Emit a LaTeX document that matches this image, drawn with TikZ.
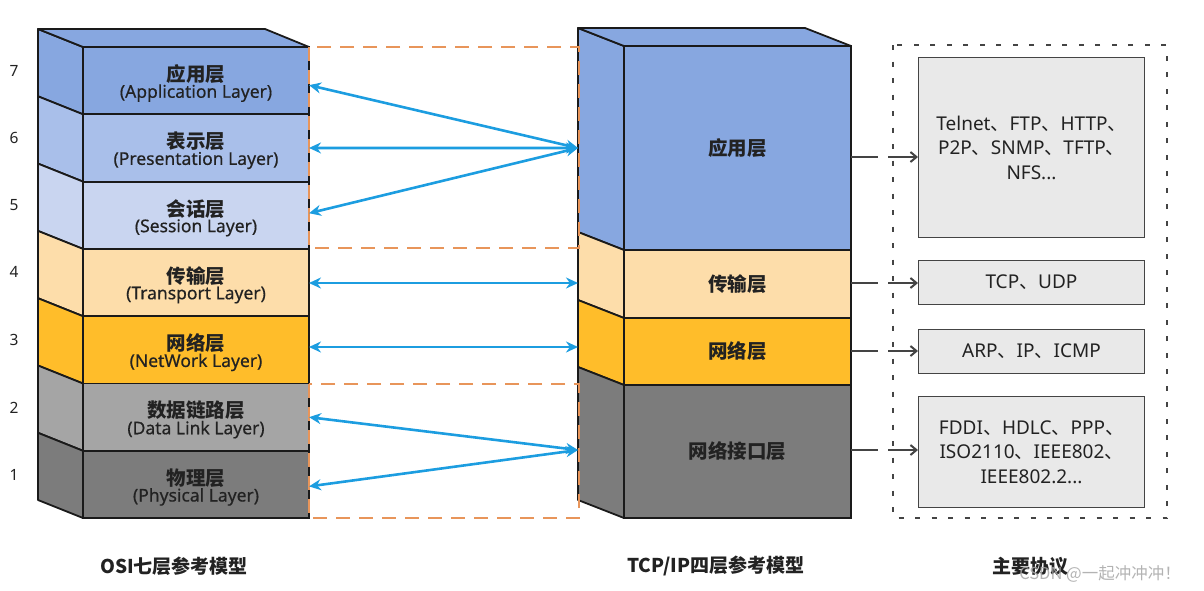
\documentclass[tikz,border=0pt]{standalone}
\usepackage{fontspec}
\setmainfont{Noto Sans}
\newfontfamily\cjk{Noto Sans CJK SC}
\newfontfamily\latmed[FakeBold=0.5]{Noto Sans}
\usetikzlibrary{arrows.meta,calc}
\definecolor{c7}{HTML}{87A7E0}
\definecolor{c6}{HTML}{A9BFEA}
\definecolor{c5}{HTML}{C9D5F0}
\definecolor{c4}{HTML}{FDDDAA}
\definecolor{c3}{HTML}{FFBD2A}
\definecolor{c2}{HTML}{A5A5A5}
\definecolor{c1}{HTML}{7C7C7C}
\definecolor{edgecol}{HTML}{1A1A1A}
\definecolor{arrowblue}{HTML}{1C9DE0}
\definecolor{dashorange}{HTML}{E8955A}
\definecolor{protofill}{HTML}{E9E9E9}
\definecolor{protoline}{HTML}{444444}
\definecolor{txt}{HTML}{222222}
\newcommand{\sideface}[5]{\filldraw[sideline, fill=#1] (#2,#4-18) -- (#3,#4) -- (#3,#5) -- (#2,#5-18) -- cycle;}
\newcommand{\lyr}[2]{{\cjk\bfseries\fontsize{19.5}{21}\selectfont\rule{0pt}{22pt}#1}\\{\latmed\fontsize{17.5}{24.5}\selectfont #2}}
\newcommand{\dun}{{\cjk 、}}
\tikzset{
  sideline/.style={draw=edgecol, line width=1.8pt, line join=round},
  layerbox/.style={draw=edgecol, line width=1.8pt, anchor=north west, inner sep=0pt, outer sep=0pt, align=center, text=txt},
  osilayer/.style={layerbox, minimum width=226pt},
  tcplayer/.style={layerbox, minimum width=227pt, font=\cjk\bfseries\fontsize{19.5}{22}\selectfont},
  protobox/.style={draw=protoline, line width=1pt, fill=protofill, anchor=north west, minimum width=226pt, inner sep=0pt, align=center, text=txt, font=\fontsize{19}{24.5}\selectfont},
  orangebox/.style={draw=dashorange, line width=1.6pt, dash pattern=on 14pt off 9pt},
  blarrow/.style={draw=arrowblue, line width=2.6pt, {Stealth[length=12pt,width=11pt]}-{Stealth[length=12pt,width=11pt]}},
  protoarrow/.style={draw=protoline, line width=2pt, dash pattern=on 27pt off 10pt, -{Straight Barb[length=6pt,width=10pt]}},
  numlabel/.style={text=txt, font=\fontsize{15.5}{18}\selectfont},
  caption/.style={text=txt, font=\cjk\bfseries\fontsize{19}{22}\selectfont},
}
\begin{document}
\begin{tikzpicture}[x=1pt,y=-1pt]
\useasboundingbox (0,0) rectangle (1204,590);
% ---------- OSI stack ----------
\sideface{c7}{38}{83}{47}{114.3}
\sideface{c6}{38}{83}{114.3}{181.6}
\sideface{c5}{38}{83}{181.6}{248.9}
\sideface{c4}{38}{83}{248.9}{316.2}
\sideface{c3}{38}{83}{316.2}{383.5}
\sideface{c2}{38}{83}{383.5}{450.8}
\sideface{c1}{38}{83}{450.8}{518}
\filldraw[sideline, fill=c7] (38,29) -- (265,29) -- (309,47) -- (83,47) -- cycle;
\node[osilayer, fill=c7, minimum height=67.3pt] (o7) at (83,47) {\lyr{应用层}{(Application Layer)}};
\node[osilayer, fill=c6, minimum height=67.3pt] (o6) at (83,114.3) {\lyr{表示层}{(Presentation Layer)}};
\node[osilayer, fill=c5, minimum height=67.3pt] (o5) at (83,181.6) {\lyr{会话层}{(Session Layer)}};
\node[osilayer, fill=c4, minimum height=67.3pt] (o4) at (83,248.9) {\lyr{传输层}{(Transport Layer)}};
\node[osilayer, fill=c3, minimum height=67.3pt] (o3) at (83,316.2) {\lyr{网络层}{(NetWork Layer)}};
\node[osilayer, fill=c2, minimum height=67.3pt] (o2) at (83,383.5) {\lyr{数据链路层}{(Data Link Layer)}};
\node[osilayer, fill=c1, minimum height=67.2pt] (o1) at (83,450.8) {\lyr{物理层}{(Physical Layer)}};
% layer numbers
\node[numlabel] (n7) at (14,71) {7};
\node[numlabel] (n6) at (14,138) {6};
\node[numlabel] (n5) at (14,205) {5};
\node[numlabel] (n4) at (14,272) {4};
\node[numlabel] (n3) at (14,340) {3};
\node[numlabel] (n2) at (14,408) {2};
\node[numlabel] (n1) at (14,475) {1};
% ---------- TCP/IP stack ----------
\sideface{c7}{578}{624}{46}{250}
\sideface{c4}{578}{624}{250}{318}
\sideface{c3}{578}{624}{318}{385}
\sideface{c1}{578}{624}{385}{518}
\filldraw[sideline, fill=c7] (578,28) -- (805,28) -- (851,46) -- (624,46) -- cycle;
\node[tcplayer, fill=c7, minimum height=204pt] (tapp) at (624,46) {应用层};
\node[tcplayer, fill=c4, minimum height=68pt] (ttra) at (624,250) {传输层};
\node[tcplayer, fill=c3, minimum height=67pt] (tnet) at (624,318) {网络层};
\node[tcplayer, fill=c1, minimum height=133pt] (tif) at (624,385) {网络接口层};
% ---------- orange dashed groups ----------
\draw[orangebox] (309,47) rectangle (579,248);
\draw[orangebox] (309,384) rectangle (579,518);
% ---------- blue arrows ----------
\coordinate (tA) at (578,148);
\coordinate (tT) at (578,283);
\coordinate (tN) at (578,347);
\coordinate (tI) at (578,450);
\draw[blarrow] ([yshift=-4.5pt]o7.east) -- (tA);
\draw[blarrow] (o6.east) -- (tA);
\draw[blarrow] ([yshift=2pt]o5.east) -- (tA);
\draw[blarrow] (o4.east |- tT) -- (tT);
\draw[blarrow] (o3.east |- tN) -- (tN);
\draw[blarrow] (o2.east) -- (tI);
\draw[blarrow] ([yshift=-2pt]o1.east) -- (tI);
% ---------- protocols ----------
\draw[protoline, line width=2.5pt, dash pattern=on 5pt off 11.5pt] (893,45) rectangle (1167,518);
\node[protobox, minimum height=180pt] (p1) at (918,57) {Telnet\dun FTP\dun HTTP\dun\\P2P\dun SNMP\dun TFTP\dun\\NFS...};
\node[protobox, minimum height=44pt] (p2) at (918,260) {TCP\dun UDP};
\node[protobox, minimum height=44pt] (p3) at (918,329) {ARP\dun IP\dun ICMP};
\node[protobox, minimum height=111pt] (p4) at (918,396) {FDDI\dun HDLC\dun PPP\dun\\ISO2110\dun IEEE802\dun\\IEEE802.2...};
\draw[protoarrow] ([yshift=-9pt]tapp.east) -- ([yshift=-9pt]tapp.east -| p1.west);
\draw[protoarrow] ([yshift=1pt]ttra.east) -- ([yshift=1pt]ttra.east -| p2.west);
\draw[protoarrow] ([yshift=0.5pt]tnet.east) -- ([yshift=0.5pt]tnet.east -| p3.west);
\draw[protoarrow] ([yshift=1.5pt]tif.east) -- ([yshift=1.5pt]tif.east -| p4.west);
% ---------- captions ----------
\node[caption] (cap1) at (174,566) {OSI七层参考模型};
\node[caption] (cap2) at (716,566) {TCP/IP四层参考模型};
\node[caption] (cap3) at (1030,566) {主要协议};
\node[text=gray!70, opacity=0.85, font=\cjk\fontsize{16.5}{20}\selectfont] (wm) at (1100,574) {CSDN @一起冲冲冲！};
\end{tikzpicture}
\end{document}
